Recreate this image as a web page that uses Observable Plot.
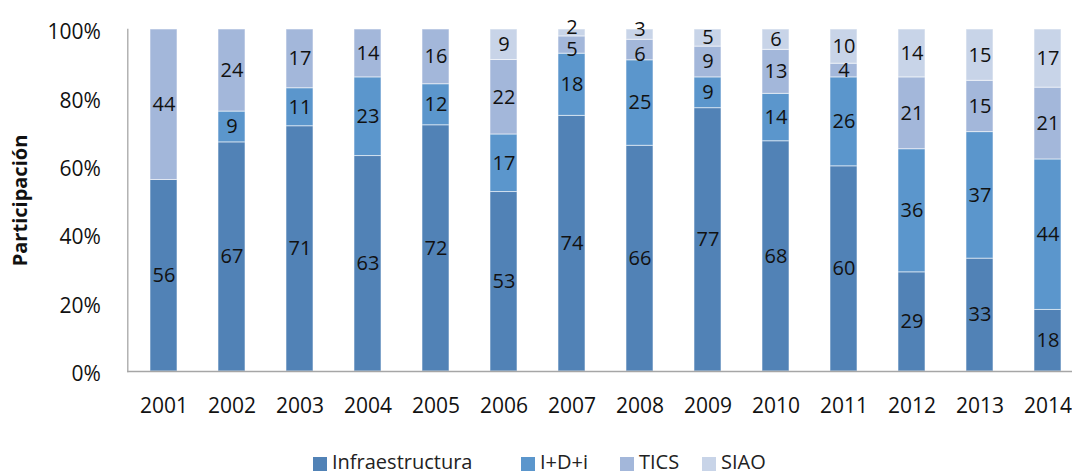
<!DOCTYPE html>
<html>
<head>
<meta charset="utf-8">
<script src="https://cdn.jsdelivr.net/npm/d3@7"></script>
<script src="https://cdn.jsdelivr.net/npm/@observablehq/plot@0.6"></script>
<style>
  html, body { margin: 0; padding: 0; background: #fff; overflow: hidden; width: 1072px; height: 476px; }
  #chart { width: 1072px; overflow: hidden; }
  #chart svg { max-width: none !important; }
  #legend { position: absolute; left: 0; top: 451px; width: 1072px; height: 24px; font-family: "Open Sans", sans-serif; font-size: 20px; color: #222; }
  .item { position: absolute; top: 0; height: 24px; line-height: 24px; white-space: nowrap; }
  .sw { position: absolute; left: 0; top: 6px; width: 14px; height: 14px; }
  .lb { position: absolute; left: 19px; top: -1px; }
</style>
</head>
<body>
<div id="chart"></div>
<div id="legend"></div>
<script>
const years = [2001, 2002, 2003, 2004, 2005, 2006, 2007, 2008, 2009, 2010, 2011, 2012, 2013, 2014];
const seriesNames = ["Infraestructura", "I+D+i", "TICS", "SIAO"];
const infra = [56, 67, 71, 63, 72, 53, 74, 66, 77, 68, 60, 29, 33, 18];
const idi   = [0, 9, 11, 23, 12, 17, 18, 25, 9, 14, 26, 36, 37, 44];
const tics  = [44, 24, 17, 14, 16, 22, 5, 6, 9, 13, 4, 21, 15, 21];
const siao  = [0, 0, 0, 0, 0, 9, 2, 3, 5, 6, 10, 14, 15, 17];
const colors = ["#5182b6", "#5b96cc", "#a3b7da", "#c8d4e8"];
const yTicks = [0, 0.2, 0.4, 0.6, 0.8, 1];
const legendX = [313, 521, 620, 702];

const seriesValues = [infra, idi, tics, siao];
const rows = [];
years.forEach((yr, i) => {
  seriesNames.forEach((s, j) => {
    // thin top segments: labels get pushed apart (as the spreadsheet does)
    const thinTop = siao[i] > 0 && siao[i] < 4;
    let nudge = 0;
    if (thinTop && j === 3) nudge = -1;
    if (thinTop && j === 2) nudge = 1;
    rows.push({year: String(yr), series: s, value: seriesValues[j][i], nudge});
  });
});
const labelRows = rows.filter(d => d.value > 0);

const font = "Open Sans, sans-serif";
const labelMark = (data, dy) => Plot.text(data, Plot.stackY({offset: "normalize"}, {
  x: "year", y: "value", z: "series", text: d => String(d.value),
  fill: "#111", fontSize: 20, dy
}));

const plot = Plot.plot({
  width: 1090,
  height: 440,
  marginLeft: 127.3,
  marginRight: 5.8,
  marginTop: 29,
  marginBottom: 69,
  style: {fontFamily: font, fontSize: "21px", color: "#111", background: "white", overflow: "visible", maxWidth: "none"},
  x: {domain: years.map(String), paddingInner: 0.6, paddingOuter: 0.3, align: 0.5},
  y: {domain: [0, 1]},
  color: {domain: seriesNames, range: colors},
  marks: [
    Plot.barY(rows, Plot.stackY({offset: "normalize"}, {
      x: "year", y: "value", z: "series", fill: "series",
      stroke: "#ffffff", strokeWidth: 1, strokeOpacity: 0.55
    })),
    // all labels are stacked on the full row set so the positions are right,
    // hidden ones simply get empty text
    Plot.text(rows, Plot.stackY({offset: "normalize"}, {
      x: "year", y: "value", z: "series",
      text: d => (d.value > 0 && d.nudge === 0) ? String(d.value) : "",
      fill: "#111", fontSize: 20
    })),
    Plot.text(rows, Plot.stackY({offset: "normalize"}, {
      x: "year", y: "value", z: "series",
      text: d => (d.value > 0 && d.nudge === -1) ? String(d.value) : "",
      fill: "#111", fontSize: 20, dy: -5
    })),
    Plot.text(rows, Plot.stackY({offset: "normalize"}, {
      x: "year", y: "value", z: "series",
      text: d => (d.value > 0 && d.nudge === 1) ? String(d.value) : "",
      fill: "#111", fontSize: 20, dy: 5
    })),
    Plot.frame({anchor: "left", stroke: "#a6a6a6", strokeWidth: 1.3}),
    Plot.ruleY([0], {stroke: "#a6a6a6", strokeWidth: 1.3}),
    Plot.axisX({tickSize: 0, tickPadding: 27, fontSize: 21, label: null}),
    Plot.axisY({
      ticks: yTicks, tickFormat: d3.format(".0%"), tickSize: 0, tickPadding: 27,
      fontSize: 21, dy: 3,
      label: "Participación", labelAnchor: "center", labelArrow: "none", labelOffset: 115
    })
  ]
});
plot.style.maxWidth = "none";
// bold y-axis title
plot.querySelectorAll("text").forEach(t => {
  if (t.textContent === "Participación") {
    t.setAttribute("font-weight", "bold");
    t.setAttribute("font-size", "20px");
  }
});
document.getElementById("chart").appendChild(plot);

const legend = document.getElementById("legend");
seriesNames.forEach((s, j) => {
  const item = document.createElement("div");
  item.className = "item";
  item.style.left = legendX[j] + "px";
  const sw = document.createElement("div");
  sw.className = "sw";
  sw.style.background = colors[j];
  const lb = document.createElement("span");
  lb.className = "lb";
  lb.textContent = s;
  item.appendChild(sw);
  item.appendChild(lb);
  legend.appendChild(item);
});
</script>
</body>
</html>
